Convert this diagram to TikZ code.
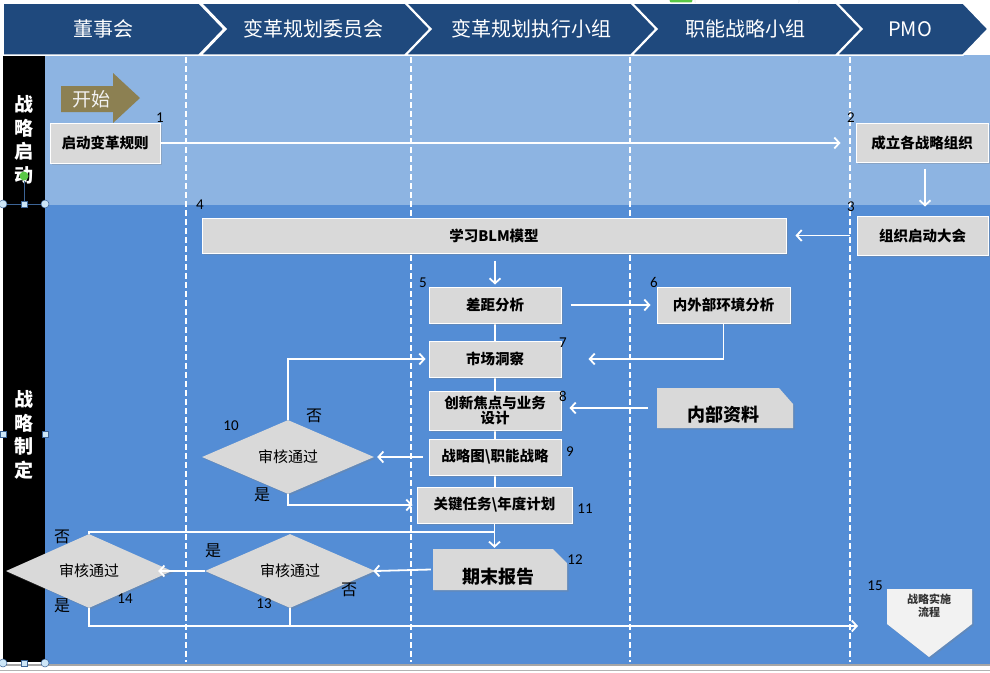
\documentclass[tikz,border=0pt]{standalone}
\usepackage{fontspec}
\setmainfont{Carlito}
\newfontfamily\cjk{Noto Sans CJK SC}
\usetikzlibrary{arrows.meta,shadows,shapes.geometric}
\definecolor{hdr}{RGB}{31,73,125}
\definecolor{topbg}{RGB}{141,180,226}
\definecolor{lowbg}{RGB}{84,141,213}
\definecolor{boxg}{RGB}{217,217,217}
\definecolor{olive}{RGB}{140,128,82}
\definecolor{hfill}{RGB}{205,230,247}
\definecolor{hline}{RGB}{60,100,150}
\definecolor{hgreen}{RGB}{90,200,70}
\definecolor{pale}{RGB}{242,242,242}
\begin{document}
\begin{tikzpicture}[x=1pt,y=-1pt,
  conn/.style={draw=white, line width=1.8pt, -{Straight Barb[length=5pt,width=11pt,line width=1.8pt]}},
  plain/.style={draw=white, line width=1.8pt},
  shad/.style={drop shadow={opacity=0.3,shadow xshift=1.5pt,shadow yshift=-1.5pt}},
  box/.style={rectangle, draw=white, line width=1pt, fill=boxg, shad, inner sep=0pt, align=center,
    font=\cjk\bfseries\fontsize{14.5}{15.5}\selectfont},
  docnode/.style={rectangle, inner sep=0pt, font=\cjk\bfseries\fontsize{18}{20}\selectfont},
  dia/.style={diamond, fill=boxg, shad, inner sep=0pt, font=\cjk\fontsize{15}{17}\selectfont},
  num/.style={font=\fontsize{15}{17}\selectfont, text=black, inner sep=0pt},
  yn/.style={font=\cjk\fontsize{16}{18}\selectfont, text=black, inner sep=0pt},
  hdrtxt/.style={font=\cjk\fontsize{20}{22}\selectfont, text=white, inner sep=0pt},
  chev/.style={fill=hdr, draw=white, line width=1.5pt},
  lane/.style={draw=white, line width=1.2pt, dash pattern=on 6pt off 3pt},
  sidetxt/.style={font=\cjk\bfseries\fontsize{19}{23.5}\selectfont, text=white, align=center, inner sep=0pt},
  hsq/.style={fill=hfill, draw=hline, line width=0.5pt},
]
\useasboundingbox (0,0) rectangle (990,672);
\fill[white] (0,0) rectangle (990,672);
% backgrounds
\fill[topbg] (45,55) rectangle (990,205);
\fill[lowbg] (45,205) rectangle (990,664);
\fill[black] (3,55) rectangle (45,662);
\draw[gray!70, line width=1.5pt] (0,665) -- (990,665);
\draw[gray!60, line width=1pt] (0,670.5) -- (990,670.5);
% header
\fill[hgreen] (681,-3) circle (12);
\draw[gray!60, fill=white, rounded corners=3pt] (695,-10) rectangle (799,5);
\path[chev] (3,3) -- (199,3) -- (224,29) -- (199,55) -- (3,55) -- cycle;
\path[chev] (201,3) -- (405,3) -- (430,29) -- (405,55) -- (201,55) -- (226,29) -- cycle;
\path[chev] (406,3) -- (631,3) -- (656,29) -- (631,55) -- (406,55) -- (431,29) -- cycle;
\path[chev] (632,3) -- (836,3) -- (861,29) -- (836,55) -- (632,55) -- (657,29) -- cycle;
\path[chev] (837,3) -- (963,3) -- (988,29) -- (963,55) -- (837,55) -- (862,29) -- cycle;
\node[hdrtxt] (h1) at (103,29) {董事会};
\node[hdrtxt] (h2) at (313,29) {变革规划委员会};
\node[hdrtxt] (h3) at (531,29) {变革规划执行小组};
\node[hdrtxt] (h4) at (745,29) {职能战略小组};
\node[hdrtxt] (h5) at (910,29) {PMO};
% lanes
\foreach \x in {186,411,630,850} \draw[lane] (\x,57) -- (\x,662);
% side labels
\node[sidetxt] (s1) at (24,140) {战\\略\\启\\动};
\node[sidetxt] (s2) at (24,435) {战\\略\\制\\定};
% selection handles
\draw[hline, line width=0.8pt] (24,181) -- (24,204);
\fill[hgreen] (24,176) circle (4.5);
\draw[hline, line width=0.6pt] (3,204) -- (45,204);
\foreach \x in {3,45} {\draw[hsq] (\x,204) circle (4);}
\draw[hsq] (21,201) rectangle (27,207);
\foreach \x in {3,45} {\draw[hsq] (\x-3,431) rectangle (\x+3,437);}
\foreach \x in {3,45} {\draw[hsq] (\x,663) circle (4);}
\draw[hsq] (21,660) rectangle (27,666);
% start arrow
\fill[olive] (61,86) -- (113,86) -- (113,73) -- (140,98) -- (113,123) -- (113,112) -- (61,112) -- cycle;
\node[font=\cjk\fontsize{19}{21}\selectfont, text=pale, inner sep=0pt] (st) at (91,99) {开始};
% junction points
\coordinate (j14) at (495,532);
\coordinate (e15) at (858,626);
% document shapes
\fill[boxg, shad] (657,388) -- (779,388) -- (793,404) -- (793,428) -- (657,428) -- cycle;
\fill[boxg, shad] (433,549) -- (553,549) -- (567,563) -- (567,590) -- (433,590) -- cycle;
\fill[pale, shad] (887,589) -- (972,589) -- (972,624) -- (929,657) -- (887,624) -- cycle;
% boxes
\node[box, minimum width=110pt, minimum height=40pt] (n1) at (105,143) {启动变革规则};
\node[box, minimum width=132pt, minimum height=39pt] (n2) at (922,142.5) {成立各战略组织};
\node[box, minimum width=131pt, minimum height=39pt] (n3) at (922.5,235.5) {组织启动大会};
\node[box, minimum width=584pt, minimum height=35pt] (n4) at (494,235.5) {学习BLM模型};
\draw[plain] (495,323) -- (495,487);
\node[box, minimum width=132pt, minimum height=36pt] (n5) at (495,305) {差距分析};
\node[box, minimum width=133pt, minimum height=36pt] (n6) at (723.5,305) {内外部环境分析};
\node[box, minimum width=132pt, minimum height=36pt] (n7) at (495,359) {市场洞察};
\node[box, minimum width=132pt, minimum height=39pt] (n8) at (495,410.5) {创新焦点与业务\\设计};
\node[box, minimum width=132pt, minimum height=36pt] (n9) at (495,457) {战略图\textbackslash 职能战略};
\node[box, minimum width=155pt, minimum height=36pt] (n11) at (494.5,505) {关键任务\textbackslash 年度计划};
\node[docnode, minimum width=136pt, minimum height=40pt, text height=33.5pt, text depth=6.5pt] (nd) at (723,408) {内部资料};
\node[docnode, minimum width=134pt, minimum height=41pt, text height=34.5pt, text depth=6.5pt] (n12) at (498,569.5) {期末报告};
\node[font=\cjk\bfseries\fontsize{11}{13}\selectfont, text=black!80, align=center, inner sep=0pt] (n15) at (929,606) {战略实施\\流程};
% diamonds
\node[dia, minimum width=172pt, minimum height=56pt] (d10) at (288,457) {审核通过};
\node[dia, minimum width=170pt, minimum height=56pt] (d13) at (290,571) {审核通过};
\node[dia, minimum width=166pt, minimum height=56pt] (d14) at (89,571) {审核通过};
% connectors
\draw[conn, shorten >=15pt] (n1.east) -- (n1.east -| n2.west);
\draw[conn, shorten <=6pt, shorten >=9pt] ([xshift=3pt]n2.south) -- ([xshift=2.5pt]n3.north);
\draw[conn, shorten <=7pt, shorten >=9pt] (n3.west) -- (n4.east);
\draw[conn, shorten <=7pt, shorten >=2pt] (n4.south -| n5.north) -- (n5.north);
\draw[conn, shorten <=9pt, shorten >=6pt] (n5.east) -- (n6.west);
\draw[conn, shorten >=27pt] (n6.south) |- (n7.east);
\draw[conn, shorten <=7pt, shorten >=8pt] (nd.west) -- (nd.west -| n8.east);
\draw[conn, shorten <=6pt, shorten >=3pt] (n9.west) -- (d10.east);
\draw[conn, shorten >=3pt] (d10.north) |- (n7.west);
\draw[conn, shorten >=4pt] (d10.south) |- (n11.west);
\draw[conn, shorten >=1pt] (n11.south) -- (n11.south |- n12.north);
\draw[plain] (d14.north) |- (j14);
\draw[conn, shorten >=-2pt] (n12.west) -- (d13.east);
\draw[conn, shorten >=-14pt] (d13.west) -- (d14.east);
\draw[plain] (d13.south) -- (d13.south |- e15);
\draw[conn] (d14.south) |- (e15);
% numbers
\node[num] (l1) at (160,118) {1};
\node[num] (l2) at (851,118) {2};
\node[num] (l3) at (851,207) {3};
\node[num] (l4) at (200,205) {4};
\node[num] (l5) at (423,283) {5};
\node[num] (l6) at (654,282) {6};
\node[num] (l7) at (563,343) {7};
\node[num] (l8) at (563,396) {8};
\node[num] (l9) at (570,452) {9};
\node[num] (l10) at (231,426) {10};
\node[num] (l11) at (585,509) {11};
\node[num] (l12) at (575,560) {12};
\node[num] (l13) at (264,604) {13};
\node[num] (l14) at (125,599) {14};
\node[num] (l15) at (875,586) {15};
% yes/no
\node[yn] (y10n) at (314,416) {否};
\node[yn] (y10y) at (262,495) {是};
\node[yn] (y13y) at (213,551) {是};
\node[yn] (y13n) at (349,590) {否};
\node[yn] (y14n) at (62,537) {否};
\node[yn] (y14y) at (62,606) {是};
\end{tikzpicture}
\end{document}
